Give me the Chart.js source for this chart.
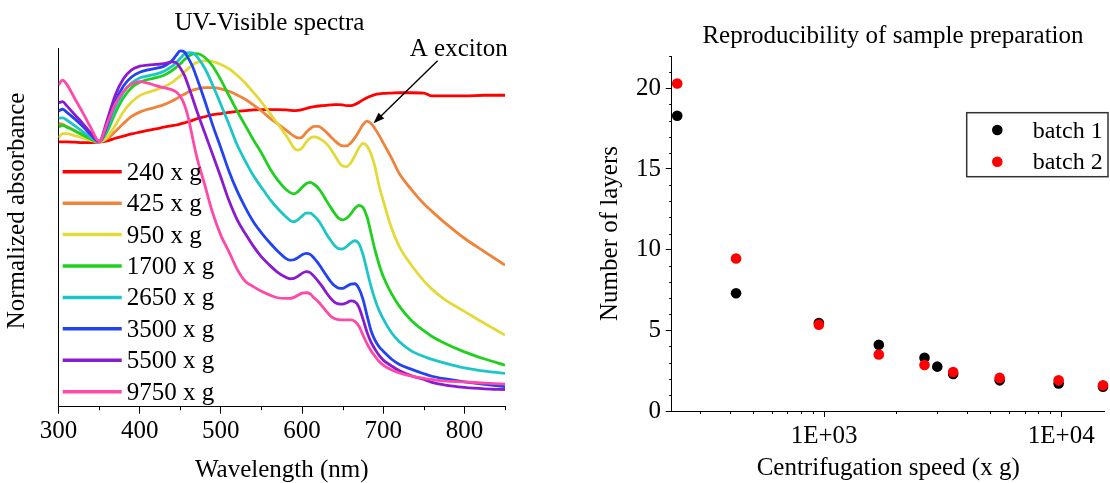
<!DOCTYPE html>
<html>
<head>
<meta charset="utf-8">
<title>UV-Visible spectra / Reproducibility of sample preparation</title>
<script src="https://cdn.jsdelivr.net/npm/chart.js@4.4.1/dist/chart.umd.min.js"></script>
<style>
  html, body { margin: 0; padding: 0; background: #fff; }
  body { width: 1110px; height: 483px; position: relative; overflow: hidden; }
  canvas { position: absolute; top: 0; }
  #uvvis { left: 0; }
  #layers { left: 560px; }
</style>
</head>
<body>
<canvas id="uvvis" width="560" height="483"></canvas>
<canvas id="layers" width="550" height="483"></canvas>
<script>
// ---- left panel: normalized UV-Vis spectra, one curve per centrifugation speed
var wavelengths = [300, 305, 310, 320, 330, 340, 350, 360, 370, 380, 390, 400, 410, 420, 430, 440, 445, 450, 455, 460,
  465, 470, 480, 490, 500, 510, 520, 530, 540, 550, 560, 570, 580, 585, 590, 595, 600, 605, 610, 615,
  620, 625, 630, 635, 640, 645, 650, 655, 660, 665, 670, 675, 680, 685, 690, 695, 700, 710, 720, 735,
  750, 760, 775, 800, 825, 850];

var spectrumLabels = ["240 x g", "425 x g", "950 x g", "1700 x g", "2650 x g", "3500 x g", "5500 x g", "9750 x g"];

var abs240 = [.739, .739, .739, .738, .737, .737, .738, .742, .749, .755, .761, .766, .771, .775, .780, .784, .786, .789, .792, .795,
  .799, .803, .809, .815, .818, .821, .824, .826, .828, .829, .829, .829, .828, .827, .826, .827, .829, .832, .835, .837,
  .839, .840, .841, .842, .843, .843, .842, .840, .840, .843, .849, .856, .862, .867, .871, .873, .874, .875, .876, .876,
  .875, .867, .867, .867, .869, .869];
var abs425 = [.791, .788, .782, .770, .757, .745, .739, .748, .768, .790, .810, .822, .830, .836, .843, .853, .859, .866, .872, .878,
  .883, .886, .890, .890, .887, .880, .870, .858, .842, .825, .806, .789, .772, .763, .755, .750, .752, .765, .776, .782,
  .782, .776, .766, .754, .743, .733, .728, .728, .736, .750, .768, .787, .797, .790, .775, .757, .736, .695, .650, .605,
  .566, .545, .515, .470, .432, .395];
var abs950 = [.750, .762, .762, .756, .750, .743, .739, .752, .785, .823, .850, .868, .877, .884, .893, .905, .914, .923, .934, .944,
  .953, .960, .965, .963, .955, .943, .925, .903, .877, .850, .820, .789, .758, .740, .722, .716, .722, .738, .750, .753,
  .750, .743, .734, .720, .702, .684, .671, .670, .680, .700, .722, .735, .728, .705, .668, .615, .575, .500, .446, .394,
  .351, .328, .300, .266, .232, .200];
var abs1700 = [.781, .785, .780, .770, .758, .746, .739, .768, .820, .862, .890, .905, .913, .918, .925, .938, .947, .957, .968, .978,
  .984, .985, .975, .950, .912, .868, .825, .785, .745, .708, .666, .632, .607, .598, .594, .600, .612, .622, .626, .620,
  .610, .594, .575, .557, .540, .526, .521, .526, .538, .553, .562, .556, .530, .484, .436, .396, .363, .316, .280, .240,
  .212, .196, .178, .153, .133, .116];
var abs2650 = [.805, .806, .800, .784, .767, .751, .739, .776, .835, .877, .903, .917, .923, .928, .936, .950, .960, .972, .984, .988,
  .987, .978, .945, .897, .843, .788, .731, .686, .645, .612, .580, .553, .530, .520, .516, .522, .532, .540, .540, .532,
  .520, .502, .482, .465, .450, .441, .440, .447, .457, .463, .455, .425, .380, .335, .298, .268, .245, .207, .181, .155,
  .140, .132, .122, .108, .099, .093];
var abs3500 = [.825, .830, .822, .803, .782, .758, .740, .785, .852, .895, .920, .933, .940, .944, .950, .966, .980, .993, .990, .972,
  .950, .920, .855, .785, .722, .657, .602, .556, .516, .485, .458, .434, .414, .409, .410, .416, .424, .428, .425, .414,
  .400, .383, .366, .350, .338, .331, .330, .336, .342, .343, .330, .300, .255, .212, .185, .167, .155, .133, .118, .104,
  .092, .085, .078, .069, .062, .056];
var abs5500 = [.848, .851, .840, .815, .790, .763, .740, .800, .870, .915, .940, .950, .953, .955, .957, .962, .960, .945, .925, .895,
  .862, .828, .765, .703, .640, .575, .522, .483, .448, .418, .395, .375, .361, .357, .358, .364, .372, .377, .374, .363,
  .350, .335, .318, .303, .292, .287, .286, .290, .295, .293, .278, .245, .208, .180, .160, .143, .130, .114, .100, .086,
  .076, .068, .061, .054, .050, .048];
var abs9750 = [.898, .911, .900, .860, .820, .778, .740, .790, .845, .880, .900, .907, .903, .896, .890, .884, .878, .866, .843, .805,
  .752, .700, .620, .540, .478, .432, .384, .350, .335, .322, .312, .304, .302, .302, .305, .311, .317, .318, .315, .303,
  .293, .280, .266, .253, .246, .243, .242, .242, .242, .238, .225, .200, .176, .156, .140, .126, .116, .103, .094, .085,
  .079, .076, .072, .069, .066, .063];

var wlMajorStep = 100;
var wlMinorTicks = [350, 450, 550, 650, 750, 850];

// "A exciton" arrow, in data units (nm, normalized absorbance)
var excitonLabel = "A exciton";
var excitonTail = [767, 0.965];
var excitonTip = [688, 0.791];
var excitonLabelAt = [793, 1.0];

// ---- right panel: number of layers vs centrifugation speed
var speeds1 = [240, 425, 950, 1700, 2650, 3000, 3500, 5500, 9750, 15000];
var layers1 = [18.3, 7.3, 5.45, 4.1, 3.3, 2.75, 2.3, 1.9, 1.7, 1.5];
var speeds2 = [240, 425, 950, 1700, 2650, 3500, 5500, 9750, 15000];
var layers2 = [20.3, 9.45, 5.35, 3.5, 2.85, 2.42, 2.05, 1.9, 1.6];

var speedMajorTicks = [1000, 10000];
var speedMinorTicks = [300, 400, 500, 600, 700, 800, 900, 2000, 3000, 4000, 5000, 6000, 7000, 8000, 9000];
var layerMinorTicks = [1, 2, 3, 4, 6, 7, 8, 9, 11, 12, 13, 14, 16, 17, 18, 19, 21, 22];

var spectra = [abs240, abs425, abs950, abs1700, abs2650, abs3500, abs5500, abs9750];
var spectrumColors = ["#ff0000", "#f0833a", "#e3da3a", "#1fd01f", "#1cc6c6", "#2243f2", "#8a1ad0", "#ff48a8"];

var SERIF = "'Liberation Serif', 'Times New Roman', serif";
Chart.defaults.font.family = SERIF;
Chart.defaults.font.size = 25;
Chart.defaults.color = "#000";

function fixWidth(w) { return function (s) { s.width = w; }; }
function fixHeight(h) { return function (s) { s.height = h; }; }

function drawMinorTicks(chart, axisId, values, len) {
  var s = chart.scales[axisId], ctx = chart.ctx, a = chart.chartArea;
  ctx.save();
  ctx.strokeStyle = "#000";
  ctx.lineWidth = 1;
  ctx.beginPath();
  values.forEach(function (v) {
    if (s.isHorizontal()) {
      var x = Math.round(s.getPixelForValue(v)) + 0.5;
      ctx.moveTo(x, a.bottom);
      ctx.lineTo(x, a.bottom + len);
    } else {
      var y = Math.round(s.getPixelForValue(v)) + 0.5;
      ctx.moveTo(a.left, y);
      ctx.lineTo(a.left - len, y);
    }
  });
  ctx.stroke();
  ctx.restore();
}

function sciLabel(v) {
  var e = Math.round(Math.log10(v));
  return "1E+" + (e < 10 ? "0" + e : e);
}

var uvDecor = {
  id: "uvDecor",
  afterDraw: function (chart) {
    var ctx = chart.ctx, xs = chart.scales.x, ys = chart.scales.y;
    drawMinorTicks(chart, "x", wlMinorTicks, 3.5);

    ctx.save();
    ctx.fillStyle = "#000";
    ctx.font = "25px " + SERIF;
    ctx.textAlign = "center";
    ctx.textBaseline = "middle";
    ctx.fillText("UV-Visible spectra", 269.5, 23);
    ctx.fillText(excitonLabel, xs.getPixelForValue(excitonLabelAt[0]), ys.getPixelForValue(excitonLabelAt[1]) + 1);
    ctx.save();
    ctx.translate(17.5, 211);
    ctx.rotate(-Math.PI / 2);
    ctx.fillText("Normalized absorbance", 0, 0);
    ctx.restore();

    // legend inside the plot
    ctx.textAlign = "left";
    chart.data.datasets.forEach(function (ds, i) {
      var y = 171.7 + i * 31.43;
      ctx.strokeStyle = ds.borderColor;
      ctx.lineWidth = 3.5;
      ctx.beginPath();
      ctx.moveTo(62.7, y);
      ctx.lineTo(121.7, y);
      ctx.stroke();
      ctx.fillText(ds.label, 126.7, y + 1.5);
    });

    // arrow to the A exciton peak
    var sx = xs.getPixelForValue(excitonTail[0]), sy = ys.getPixelForValue(excitonTail[1]);
    var tx = xs.getPixelForValue(excitonTip[0]), ty = ys.getPixelForValue(excitonTip[1]);
    var ang = Math.atan2(ty - sy, tx - sx), c = Math.cos(ang), s = Math.sin(ang);
    ctx.strokeStyle = "#000";
    ctx.lineWidth = 1.4;
    ctx.beginPath();
    ctx.moveTo(sx, sy);
    ctx.lineTo(tx - 8 * c, ty - 8 * s);
    ctx.stroke();
    ctx.beginPath();
    ctx.moveTo(tx, ty);
    ctx.lineTo(tx - 11 * c + 4 * s, ty - 11 * s - 4 * c);
    ctx.lineTo(tx - 11 * c - 4 * s, ty - 11 * s + 4 * c);
    ctx.closePath();
    ctx.fill();
    ctx.restore();
  }
};

new Chart(document.getElementById("uvvis"), {
  type: "line",
  data: {
    datasets: spectra.map(function (vals, i) {
      return {
        label: spectrumLabels[i],
        data: wavelengths.map(function (w, j) { return { x: w, y: vals[j] }; }),
        borderColor: spectrumColors[i],
        borderWidth: 2.8,
        pointRadius: 0,
        fill: false,
        cubicInterpolationMode: "monotone",
        order: spectra.length - 1 - i
      };
    })
  },
  options: {
    responsive: false,
    animation: false,
    events: [],
    layout: { padding: { top: 48.3, right: 55, left: 0, bottom: 0 } },
    plugins: { legend: { display: false }, title: { display: false }, tooltip: { enabled: false } },
    scales: {
      x: {
        type: "linear",
        min: 300,
        max: 850,
        ticks: { stepSize: wlMajorStep, includeBounds: false, autoSkip: false, maxRotation: 0, padding: 2.8 },
        grid: { display: true, drawOnChartArea: false, tickLength: 7, tickColor: "#000", tickWidth: 1 },
        border: { display: true, color: "#000", width: 1 },
        title: { display: true, text: "Wavelength (nm)", font: { size: 25, lineHeight: 1.04 }, padding: { top: 0, bottom: 0 } },
        afterFit: fixHeight(76.3)
      },
      y: {
        min: 0,
        max: 1,
        ticks: { display: false },
        grid: { display: false },
        border: { display: true, color: "#000", width: 1 },
        afterFit: fixWidth(58.5)
      }
    }
  },
  plugins: [uvDecor]
});

var layerDecor = {
  id: "layerDecor",
  afterDraw: function (chart) {
    var ctx = chart.ctx;
    drawMinorTicks(chart, "x", speedMinorTicks, 3);
    drawMinorTicks(chart, "y", layerMinorTicks, 2.5);

    ctx.save();
    ctx.fillStyle = "#000";
    ctx.font = "25px " + SERIF;
    ctx.textAlign = "center";
    ctx.textBaseline = "middle";
    ctx.fillText("Reproducibility of sample preparation", 333, 36);

    // legend box
    ctx.fillStyle = "#fff";
    ctx.fillRect(406.7, 112.7, 141.3, 64);
    ctx.strokeStyle = "#333";
    ctx.lineWidth = 1.5;
    ctx.strokeRect(406.7, 112.7, 141.3, 64);
    ctx.font = "24px " + SERIF;
    ctx.textAlign = "left";
    var ds = chart.data.datasets;
    [0, 1].forEach(function (i) {
      var y = 130 + i * 31.7;
      ctx.fillStyle = ds[i].backgroundColor;
      ctx.beginPath();
      ctx.arc(437.3, y, 5.3, 0, Math.PI * 2);
      ctx.fill();
      ctx.fillStyle = "#000";
      ctx.fillText(ds[i].label, 472.7, y + 1.5);
    });
    ctx.restore();
  }
};

new Chart(document.getElementById("layers"), {
  type: "scatter",
  data: {
    datasets: [
      {
        label: "batch 1",
        data: speeds1.map(function (s, i) { return { x: s, y: layers1[i] }; }),
        backgroundColor: "#000000",
        borderWidth: 0,
        pointRadius: 5.3,
        clip: false,
        order: 1
      },
      {
        label: "batch 2",
        data: speeds2.map(function (s, i) { return { x: s, y: layers2[i] }; }),
        backgroundColor: "#ff0000",
        borderWidth: 0,
        pointRadius: 5.3,
        clip: false,
        order: 0
      }
    ]
  },
  options: {
    responsive: false,
    animation: false,
    events: [],
    layout: { padding: { top: 56, right: 0, left: 0, bottom: 0 } },
    plugins: { legend: { display: false }, title: { display: false }, tooltip: { enabled: false } },
    scales: {
      x: {
        type: "logarithmic",
        min: 227.5,
        max: 15250,
        afterBuildTicks: function (s) {
          s.ticks = speedMajorTicks.map(function (v) { return { value: v }; });
        },
        ticks: { autoSkip: false, maxRotation: 0, padding: 4.5, callback: function (v) { return sciLabel(v); } },
        grid: { display: true, drawOnChartArea: false, tickLength: 6, tickColor: "#000", tickWidth: 1 },
        border: { display: true, color: "#000", width: 1 },
        title: { display: true, text: "Centrifugation speed (x g)", font: { size: 25, lineHeight: 1.2 }, padding: { top: 0, bottom: 0 } },
        afterFit: fixHeight(72)
      },
      y: {
        min: 0,
        max: 22,
        ticks: { stepSize: 5, includeBounds: false, padding: 4.7 },
        grid: { display: true, drawOnChartArea: false, tickLength: 6, tickColor: "#000", tickWidth: 1 },
        border: { display: true, color: "#000", width: 1 },
        title: { display: true, text: "Number of layers", font: { size: 25, lineHeight: 1.2 }, padding: { top: 35.9, bottom: 0 } },
        afterFit: fixWidth(111.7)
      }
    }
  },
  plugins: [layerDecor]
});
</script>
</body>
</html>
